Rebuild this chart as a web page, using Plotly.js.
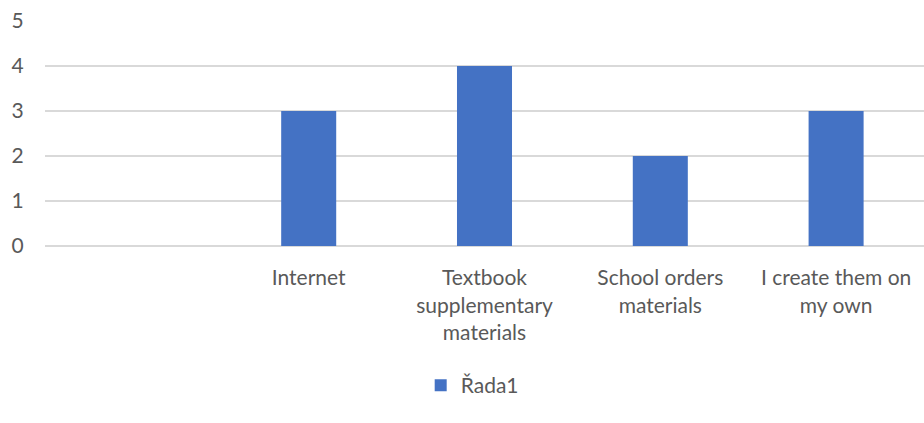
<!DOCTYPE html>
<html><head><meta charset="utf-8">
<script src="https://cdn.plot.ly/plotly-3.0.1.min.js"></script>
<style>body{margin:0;background:#fff}#c{width:924px;height:423px}</style>
</head><body><div id="c"></div>
<script>
const categories = ["", "Internet", "Textbook<br>supplementary<br>materials", "School orders<br>materials", "I create them on<br>my own"];
const values = [null, 3, 4, 2, 3];
const seriesName = "Řada1";
const yTicks = [0, 1, 2, 3, 4, 5];

const idx = categories.map((c, i) => i);
const font = "Lato, 'Open Sans', sans-serif";
const fs = 21;
Plotly.newPlot("c", [{
  type: "bar", x: idx, y: values, name: seriesName,
  marker: {color: "#4472C4"}, showlegend: true
}], {
  width: 924, height: 423,
  margin: {l: 45, r: 0, t: 21, b: 177},
  paper_bgcolor: "#fff", plot_bgcolor: "#fff",
  bargap: 0.687,
  font: {family: font, size: fs, color: "#595959"},
  xaxis: {
    tickvals: idx, ticktext: categories, range: [-0.5, categories.length - 0.5],
    showgrid: false, zeroline: false, showline: false,
    ticks: "outside", ticklen: 13, tickcolor: "rgba(0,0,0,0)",
    tickfont: {family: font, size: fs, color: "#595959"}
  },
  yaxis: {
    range: [0, 5], tickvals: yTicks, showgrid: true, gridcolor: "#d9d9d9", gridwidth: 1.5,
    zeroline: true, zerolinecolor: "#d9d9d9", zerolinewidth: 1.5,
    ticks: "outside", ticklen: 16, tickcolor: "rgba(0,0,0,0)",
    tickfont: {family: font, size: fs, color: "#595959"}
  },
  legend: {orientation: "h", x: 0.486, xanchor: "center", y: -0.62, yanchor: "middle",
    itemwidth: 30,
    font: {family: font, size: fs, color: "#595959"}},
  showlegend: true
}, {displayModeBar: false, staticPlot: true});
</script></body></html>
